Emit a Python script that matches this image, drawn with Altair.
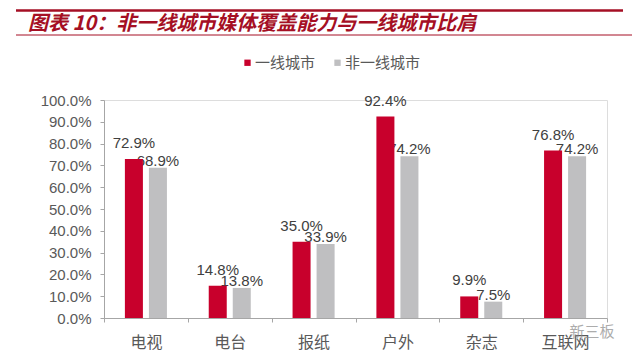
import altair as alt
import pandas as pd

categories = ["电视", "电台", "报纸", "户外", "杂志", "互联网"]
series = ["一线城市", "非一线城市"]
tier1 = [72.9, 14.8, 35.0, 92.4, 9.9, 76.8]
non_tier1 = [68.9, 13.8, 33.9, 74.2, 7.5, 74.2]
y_ticks = [0, 10, 20, 30, 40, 50, 60, 70, 80, 90, 100]
title_text = "图表 10：非一线城市媒体覆盖能力与一线城市比肩"
watermark = "新三板"

RED = "#C8002C"
GRAY = "#BFBFC1"
TITLE_RED = "#A50F24"
LATIN = 'Liberation Sans, "Noto Sans CJK SC", sans-serif'
CJK = '"Noto Sans CJK SC", sans-serif'

rows = []
for c, a, b in zip(categories, tier1, non_tier1):
    rows.append({"media": c, "city": series[0], "value": a})
    rows.append({"media": c, "city": series[1], "value": b})
df = pd.DataFrame(rows)

W, H = 503, 218

x_enc = alt.X(
    "media:N", sort=categories, title=None,
    scale=alt.Scale(paddingInner=0, paddingOuter=0),
    axis=alt.Axis(labelAngle=0, labelFont=CJK, labelFontSize=16, labelColor="#595959",
                  domainColor="#A6A6A6", tickColor="#A6A6A6", tickSize=4,
                  tickBand="extent", labelPadding=12, grid=False),
)
xo_enc = alt.XOffset("city:N", sort=series,
                     scale=alt.Scale(domain=series, paddingInner=0.25, paddingOuter=0.87))
y_enc = alt.Y(
    "value:Q", title=None, scale=alt.Scale(domain=[0, 100], nice=False),
    axis=alt.Axis(values=y_ticks, labelExpr="format(datum.value, '.1f') + '%'",
                  labelFont=LATIN, labelFontSize=15, labelColor="#595959",
                  domainColor="#A6A6A6", tickColor="#A6A6A6", tickSize=4,
                  labelPadding=9, grid=False),
)
color_enc = alt.Color(
    "city:N", sort=series,
    scale=alt.Scale(domain=series, range=[RED, GRAY]),
    legend=alt.Legend(title=None, orient="none", direction="horizontal",
                      legendX=136, legendY=-45, symbolType="square", symbolSize=40,
                      symbolStrokeWidth=0, labelFont=CJK, labelFontSize=15,
                      labelColor="#595959", labelOffset=0, columnPadding=14, padding=0),
)

base = alt.Chart(df).encode(x=x_enc, xOffset=xo_enc, y=y_enc).transform_calculate(
    label="format(datum.value, '.1f') + '%'"
)

gray_bars = base.transform_filter(alt.datum.city == series[1]).mark_bar().encode(color=color_enc)
red_bars = base.transform_filter(alt.datum.city == series[0]).mark_bar().encode(color=color_enc)
gray_labels = base.transform_filter(alt.datum.city == series[1]).mark_text(
    font=LATIN, fontSize=15, color="#404040", baseline="alphabetic", dy=-2
).encode(text="label:N")
red_labels = base.transform_filter(alt.datum.city == series[0]).mark_text(
    font=LATIN, fontSize=15, color="#404040", baseline="alphabetic", dy=-11
).encode(text="label:N")

one = pd.DataFrame({"t": [title_text], "w": [watermark]})
top_rule = alt.Chart(one).mark_rule(color=TITLE_RED, strokeWidth=2.5).encode(
    x=alt.value(-88), x2=alt.value(519), y=alt.value(-89.5))
thin_rule = alt.Chart(one).mark_rule(color=TITLE_RED, strokeWidth=1).encode(
    x=alt.value(-88), x2=alt.value(528), y=alt.value(-65))
title_mark = alt.Chart(one).mark_text(
    font=CJK, fontSize=20, fontWeight="bold", fontStyle="italic", color=TITLE_RED,
    align="left", baseline="middle"
).encode(text="t:N", x=alt.value(-76), y=alt.value(-76.5))
wm_mark = alt.Chart(one).mark_text(
    font=CJK, fontSize=15, color="#8A8A8A", opacity=0.7, align="center", baseline="middle"
).encode(text="w:N", x=alt.value(488), y=alt.value(232))

chart = alt.layer(
    top_rule, thin_rule, gray_bars, gray_labels, red_bars, red_labels, wm_mark, title_mark
).properties(
    width=W, height=H,
    autosize=alt.AutoSizeParams(type="none"),
    padding={"left": 96, "top": 92, "right": 25, "bottom": 36},
).configure_view(stroke=None).configure(background="white")

chart.save("out.html", embed_options={"renderer": "svg", "actions": False})
